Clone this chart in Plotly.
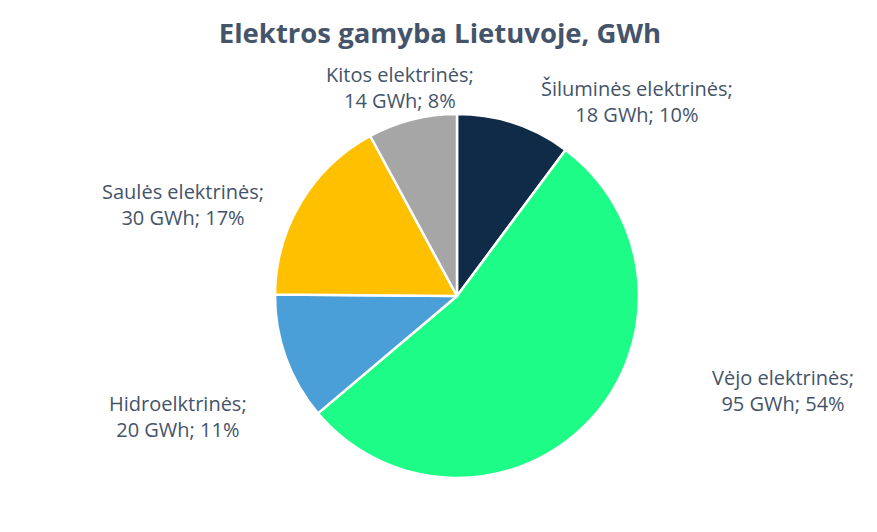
import plotly.graph_objects as go

labels = ["Šiluminės elektrinės", "Vėjo elektrinės", "Hidroelktrinės", "Saulės elektrinės", "Kitos elektrinės"]
values = [18, 95, 20, 30, 14]
colors = ["#0f2b48", "#1cfc87", "#4a9fd8", "#ffc000", "#a6a6a6"]
title = "Elektros gamyba Lietuvoje, GWh"

W, H = 877, 532
OFF = 8  # page body margin
cx, cy, r = 457 - OFF, 296 - OFF, 182
# label box centres (page pixels), layout only
label_pos = [(637, 102), (783, 390), (178, 416), (183, 204), (400, 87)]
font = "Open Sans"
txt_color = "#44546a"

total = sum(values)

fig = go.Figure(go.Pie(
    labels=labels,
    values=values,
    sort=False,
    direction="clockwise",
    rotation=0,
    marker=dict(colors=colors, line=dict(color="white", width=2.5)),
    textinfo="none",
    hoverinfo="skip",
    showlegend=False,
    domain=dict(x=[(cx - r) / W, (cx + r) / W], y=[(H - cy - r) / H, (H - cy + r) / H]),
))

for lab, val, (px, py) in zip(labels, values, label_pos):
    fig.add_annotation(
        x=(px - OFF) / W, y=1 - (py - OFF) / H, xref="paper", yref="paper",
        text=f"{lab};<br>{val} GWh; {round(100 * val / total)}%",
        showarrow=False, xanchor="center", yanchor="middle", align="center",
        font=dict(family=font, size=20, color=txt_color),
    )

fig.update_layout(
    width=W, height=H,
    margin=dict(l=0, r=0, t=0, b=0),
    paper_bgcolor="white",
    title=dict(text="<b>" + title + "</b>", x=(440 - OFF) / W, xanchor="center", y=1 - (33 - OFF) / H, yanchor="middle",
               font=dict(family=font, size=27.5, color=txt_color)),
)

fig.write_html("out.html")
